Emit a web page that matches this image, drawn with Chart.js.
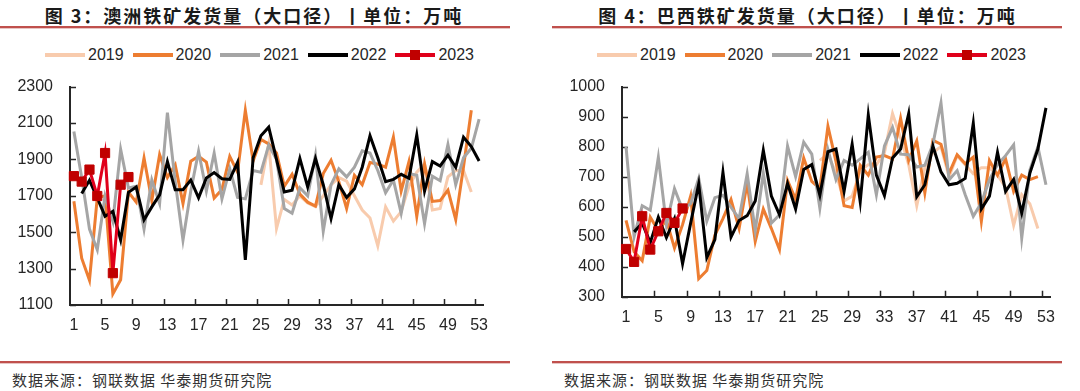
<!DOCTYPE html>
<html lang="zh-CN">
<head>
<meta charset="utf-8">
<title>澳洲 / 巴西铁矿发货量</title>
<script src="https://cdn.jsdelivr.net/npm/chart.js@4.4.0/dist/chart.umd.min.js"></script>
<style>
  html, body { margin: 0; padding: 0; background: #fff; }
  body { width: 1080px; height: 391px; position: relative; overflow: hidden;
         font-family: "Noto Sans CJK SC", "Noto Sans", sans-serif; color: #1a1a1a; }
  .title { position: absolute; top: 3px; font-weight: bold; font-size: 18px; letter-spacing: 2px;
           line-height: 24px; text-align: center; white-space: nowrap; }
  .rule { position: absolute; height: 2px; background: #c0504d; box-shadow: 0 1px 0 #e8c4c3; }
  .source { position: absolute; top: 370px; font-size: 15px; letter-spacing: 1px; line-height: 20px;
            color: #333; white-space: nowrap; }
  .legend { position: absolute; top: 45px; height: 20px; display: flex; align-items: center;
            font-family: "Liberation Sans", Arial, sans-serif; font-size: 16px; color: #262626; }
  .legend .item { display: flex; align-items: center; margin-right: 9px; }
  .legend .line { position: relative; width: 40px; height: 4px; margin-right: 3px; }
  .legend .mark { position: absolute; left: 15px; top: -3px; width: 10px; height: 10px; }
  canvas { position: absolute; top: 60px; }
</style>
</head>
<body>

<div class="title" style="left:0; width:508px;">图 3：澳洲铁矿发货量（大口径）丨单位：万吨</div>
<div class="rule" style="left:0; width:510px; top:26px;"></div>
<div class="legend" id="legend-aus" style="left:45px;"></div>
<canvas id="ausChart" width="540" height="280" style="left:0;"></canvas>
<div class="rule" style="left:0; width:510px; top:361px;"></div>
<div class="source" style="left:12px;">数据来源：钢联数据 华泰期货研究院</div>

<div class="title" style="left:540px; width:535px;">图 4：巴西铁矿发货量（大口径）丨单位：万吨</div>
<div class="rule" style="left:552px; width:510px; top:26px;"></div>
<div class="legend" id="legend-bra" style="left:597px;"></div>
<canvas id="braChart" width="540" height="280" style="left:540px;"></canvas>
<div class="rule" style="left:552px; width:510px; top:361px;"></div>
<div class="source" style="left:564px;">数据来源：钢联数据 华泰期货研究院</div>

<script>
// 周数 (x 轴)
const weeks = [1, 2, 3, 4, 5, 6, 7, 8, 9, 10, 11, 12, 13, 14, 15, 16, 17, 18, 19, 20,
  21, 22, 23, 24, 25, 26, 27, 28, 29, 30, 31, 32, 33, 34, 35, 36, 37, 38, 39, 40,
  41, 42, 43, 44, 45, 46, 47, 48, 49, 50, 51, 52, 53];
const weekTicks = [1, 5, 9, 13, 17, 21, 25, 29, 33, 37, 41, 45, 49, 53];

const seriesNames = ['2019', '2020', '2021', '2022', '2023'];
const seriesColors = ['#f8cbad', '#ed7d31', '#a5a5a5', '#000000', '#e0001b'];
const markerColor = '#c00000';

// 澳洲 (万吨)
const aus2019 = [null, null, null, null, null, null, null, null, null, null,
  null, null, null, null, null, null, null, null, null, null,
  null, null, null, null, 1760, 1985, 1520, 1680, 1650, 1700,
  1660, 1640, 1700, 1760, 1800, 1780, 1700, 1622, 1578, 1425,
  1639, 1561, 1613, 1752, 1830, 1874, 1622, 1630, 1804, 1839,
  1839, 1721, null];
const aus2020 = [1670, 1357, 1236, 1690, 1700, 1161, 1239, 1720, 1665, 1908,
  1674, 1926, 1800, 1870, 1657, 1890, 1917, 1885, 1688, 1735,
  1917, 1830, 2170, 1891, 2010, 1985, 1935, 1752, 1818, 1709,
  1665, 1644, 1822, 1895, 1778, 1630, 1813, 1761, 1883, 1874,
  1857, 2022, 1726, 1888, 1587, 1874, 1669, 1674, 1731, 1570,
  1860, 2170, null];
const aus2021 = [2053, 1800, 1517, 1404, 1700, 1560, 1956, 1743, 1752, 1517,
  1787, 1657, 2157, 1778, 1457, 1726, 1944, 1726, 1935, 1683,
  1848, 1691, 1683, 1839, 1830, 1978, 1900, 1630, 1604, 1744,
  1700, 1923, 1505, 1761, 1848, 1804, 1857, 1947, 1935, 1839,
  1717, 1787, 1604, 1822, 1813, 1547, 1808, 1783, 1982, 1761,
  1909, 1961, 2121];
const aus2022 = [null, 1712, 1785, 1688, 1588, 1615, 1458, 1719, 1748, 1568,
  1639, 1705, 1888, 1733, 1733, 1786, 1689, 1798, 1828, 1794,
  1790, 1884, 1348, 1909, 2030, 2077, 1900, 1721, 1731, 1905,
  1749, 1905, 1761, 1575, 1761, 1691, 1738, 1857, 2030, 1909,
  1778, 1790, 1818, 1796, 2034, 1726, 1888, 1864, 1923, 1857,
  2022, 1970, 1891];
const aus2023 = [1808, 1778, 1844, 1699, 1935, 1275, 1761, 1803];

// 巴西 (万吨)
const bra2019 = [null, null, null, null, null, null, null, null, null, null,
  null, null, null, null, null, null, null, null, null, null,
  null, null, null, null, 754, 775, 711, 619, 635, 720,
  740, 740, 780, 910, 829, 740, 603, 730, 780, 800,
  700, 770, 740, 710, 730, 730, 705, 665, 538, 640,
  610, 527, null];
const bra2020 = [554, 450, 420, 565, 520, 555, 462, 540, 635, 360,
  387, 505, 560, 624, 527, 678, 484, 592, 527, 457,
  687, 624, 762, 684, 660, 868, 750, 603, 597, 738,
  705, 765, 770, 759, 894, 754, 819, 646, 821, 808,
  711, 773, 743, 765, 551, 754, 705, 759, 651, 705,
  690, 700, null];
const bra2021 = [800, 500, 603, 588, 764, 540, 660, 590, 610, 694,
  552, 630, 638, 598, 560, 710, 520, 711, 545, 573,
  802, 700, 815, 775, 595, 790, 690, 754, 738, 759,
  781, 640, 802, 864, 775, 773, 732, 738, 808, 946,
  689, 720, 640, 568, 613, 690, 740, 770, 806, 495,
  721, 799, 673];
const bra2022 = [null, 516, 545, 480, 565, 497, 560, 410, 545, 676,
  430, 490, 714, 499, 554, 570, 619, 788, 635, 573,
  677, 592, 724, 740, 638, 783, 792, 651, 808, 616,
  905, 705, 637, 762, 792, 910, 633, 673, 802, 716,
  673, 678, 694, 878, 592, 635, 781, 651, 691, 579,
  711, 792, 929];
const bra2023 = [459, 416, 568, 457, 518, 579, 546, 594];

const axisColor = '#262626';
const tickFont = { family: '"Liberation Sans", Arial, sans-serif', size: 16 };

// 坐标轴内侧刻度
const innerTicks = {
  id: 'innerTicks',
  beforeDatasetsDraw(chart) {
    const { ctx, chartArea, scales: { x, y } } = chart;
    ctx.save();
    ctx.strokeStyle = axisColor;
    ctx.lineWidth = 1.5;
    ctx.beginPath();
    y.ticks.forEach(t => {
      const py = Math.round(y.getPixelForValue(t.value)) + 0.5;
      ctx.moveTo(chartArea.left, py);
      ctx.lineTo(chartArea.left + 6, py);
    });
    weekTicks.forEach((w, i) => {
      if (i === 0) return;
      const px = Math.round(x.getPixelForValue(weeks.indexOf(w) - 0.5)) + 0.5;
      ctx.moveTo(px, chartArea.bottom);
      ctx.lineTo(px, chartArea.bottom - 6);
    });
    ctx.stroke();
    ctx.restore();
  }
};

function buildLegend(id) {
  const box = document.getElementById(id);
  seriesNames.forEach((name, i) => {
    const item = document.createElement('div');
    item.className = 'item';
    const line = document.createElement('div');
    line.className = 'line';
    line.style.background = seriesColors[i];
    if (name === '2023') {
      const mark = document.createElement('div');
      mark.className = 'mark';
      mark.style.background = markerColor;
      line.appendChild(mark);
    }
    const text = document.createElement('span');
    text.textContent = name;
    item.appendChild(line);
    item.appendChild(text);
    box.appendChild(item);
  });
}

function makeChart(canvasId, series, yMin, yMax, step, yWidth, xHeight, padding) {
  const order = [4, 3, 2, 1, 0];
  const datasets = series.map((data, i) => {
    const isNew = seriesNames[i] === '2023';
    return {
      label: seriesNames[i],
      data: data,
      borderColor: seriesColors[i],
      backgroundColor: isNew ? markerColor : seriesColors[i],
      borderWidth: 3,
      pointRadius: isNew ? 6.5 : 0,
      pointStyle: 'rect',
      pointBorderColor: markerColor,
      pointBorderWidth: 1,
      tension: 0,
      fill: false,
      clip: false,
      order: order[i]
    };
  });

  return new Chart(document.getElementById(canvasId), {
    type: 'line',
    data: { labels: weeks, datasets },
    options: {
      responsive: false,
      animation: false,
      layout: { padding },
      scales: {
        x: {
          offset: true,
          grid: { display: true, drawOnChartArea: false, drawTicks: false, offset: true },
          border: { display: true, color: axisColor, width: 2 },
          afterFit: s => { s.height = xHeight; },
          ticks: {
            autoSkip: false,
            maxRotation: 0,
            padding: 11,
            color: axisColor,
            font: tickFont,
            callback: (v, i) => weekTicks.includes(weeks[i]) ? String(weeks[i]) : ''
          }
        },
        y: {
          min: yMin,
          max: yMax,
          grid: { display: true, drawOnChartArea: false, drawTicks: false },
          border: { display: true, color: axisColor, width: 2 },
          afterFit: s => { s.width = yWidth; },
          ticks: {
            stepSize: step,
            padding: 17,
            color: axisColor,
            font: tickFont,
            callback: v => String(v)
          }
        }
      },
      plugins: {
        legend: { display: false },
        tooltip: { enabled: false }
      }
    },
    plugins: [innerTicks]
  });
}

buildLegend('legend-aus');
buildLegend('legend-bra');

makeChart('ausChart', [aus2019, aus2020, aus2021, aus2022, aus2023],
  1100, 2300, 200, 70, 35, { top: 15, right: 57, left: 0, bottom: 0 });
makeChart('braChart', [bra2019, bra2020, bra2021, bra2022, bra2023],
  300, 1000, 100, 82, 43.3, { top: 20.7, right: 30, left: 0, bottom: 0 });
</script>
</body>
</html>
